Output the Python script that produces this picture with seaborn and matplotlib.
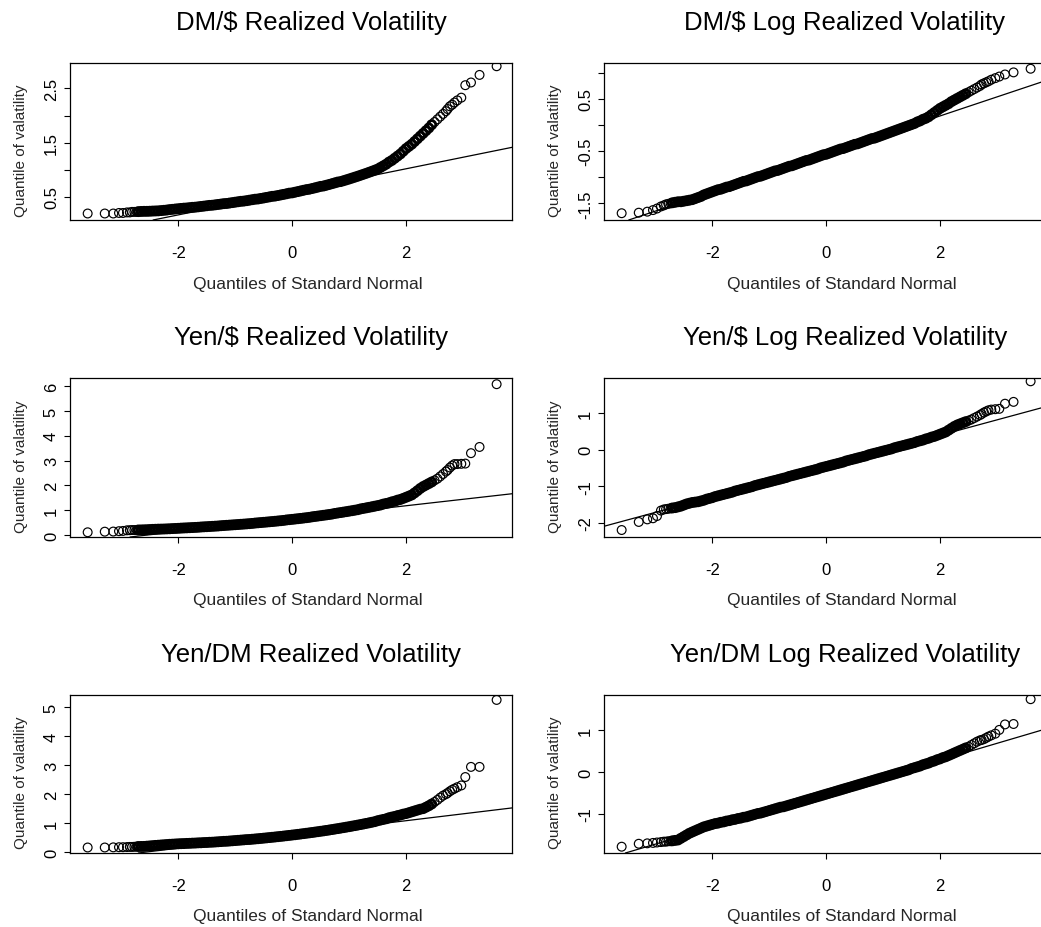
import matplotlib
matplotlib.use("Agg")
import matplotlib.pyplot as plt
from matplotlib import font_manager
import numpy as np
import pandas as pd
import seaborn as sns

# Standard normal quantiles (shared by all six panels)
X_QUANTILES = [
    -3.59, -3.29, -3.14, -3.04, -2.97, -2.90, -2.85, -2.81, -2.77, -2.73,
    -2.70, -2.65, -2.60, -2.55, -2.50, -2.45, -2.40, -2.35, -2.30, -2.25,
    -2.20, -2.15, -2.10, -2.05, -2.00, -1.95, -1.90, -1.85, -1.80, -1.75,
    -1.70, -1.65, -1.60, -1.55, -1.50, -1.45, -1.40, -1.35, -1.30, -1.25,
    -1.20, -1.15, -1.10, -1.05, -1.00, -0.95, -0.90, -0.85, -0.80, -0.75,
    -0.70, -0.65, -0.60, -0.55, -0.50, -0.45, -0.40, -0.35, -0.30, -0.25,
    -0.20, -0.15, -0.10, -0.05, 0.00, 0.05, 0.10, 0.15, 0.20, 0.25,
    0.30, 0.35, 0.40, 0.45, 0.50, 0.55, 0.60, 0.65, 0.70, 0.75,
    0.80, 0.85, 0.90, 0.95, 1.00, 1.05, 1.10, 1.15, 1.20, 1.25,
    1.30, 1.35, 1.40, 1.45, 1.50, 1.55, 1.60, 1.65, 1.70, 1.75,
    1.80, 1.85, 1.90, 1.95, 2.00, 2.05, 2.10, 2.15, 2.20, 2.25,
    2.30, 2.35, 2.40, 2.45, 2.50, 2.55, 2.60, 2.65, 2.70,
    2.73, 2.77, 2.81, 2.85, 2.90, 2.97, 3.04, 3.14, 3.29, 3.59,
]

# Sample quantiles, DM/$ realized volatility
DM_RV = [
    0.19, 0.19, 0.19, 0.20, 0.20, 0.21, 0.21, 0.22, 0.22, 0.22,
    0.225, 0.228, 0.230, 0.230, 0.232, 0.235, 0.237, 0.239, 0.244, 0.249,
    0.254, 0.262, 0.267, 0.273, 0.278, 0.284, 0.289, 0.292, 0.298, 0.304,
    0.307, 0.313, 0.320, 0.326, 0.333, 0.340, 0.343, 0.350, 0.357, 0.364,
    0.372, 0.375, 0.383, 0.391, 0.399, 0.407, 0.415, 0.419, 0.427, 0.436,
    0.445, 0.454, 0.458, 0.468, 0.477, 0.487, 0.497, 0.507, 0.512, 0.522,
    0.533, 0.543, 0.554, 0.566, 0.571, 0.583, 0.595, 0.607, 0.619, 0.631,
    0.638, 0.651, 0.664, 0.677, 0.691, 0.698, 0.712, 0.726, 0.741, 0.756,
    0.771, 0.779, 0.795, 0.811, 0.827, 0.844, 0.861, 0.878, 0.896, 0.914,
    0.932, 0.951, 0.970, 0.990, 1.010, 1.04, 1.07, 1.10, 1.14, 1.17,
    1.21, 1.25, 1.29, 1.34, 1.39, 1.43, 1.47, 1.52, 1.57, 1.62,
    1.67, 1.72, 1.77, 1.83, 1.88, 1.93, 1.98, 2.03, 2.08,
    2.12, 2.17, 2.20, 2.24, 2.28, 2.33, 2.56, 2.61, 2.75, 2.91,
]

# Sample quantiles, DM/$ log realized volatility
DM_LOG_RV = [
    -1.69, -1.68, -1.66, -1.63, -1.60, -1.56, -1.54, -1.52, -1.51, -1.50,
    -1.49, -1.48, -1.47, -1.47, -1.46, -1.45, -1.44, -1.43, -1.41, -1.39,
    -1.37, -1.34, -1.32, -1.30, -1.28, -1.26, -1.24, -1.23, -1.21, -1.19,
    -1.18, -1.16, -1.14, -1.12, -1.10, -1.08, -1.07, -1.05, -1.03, -1.01,
    -0.99, -0.98, -0.96, -0.94, -0.92, -0.90, -0.88, -0.87, -0.85, -0.83,
    -0.81, -0.79, -0.78, -0.76, -0.74, -0.72, -0.70, -0.68, -0.67, -0.65,
    -0.63, -0.61, -0.59, -0.57, -0.56, -0.54, -0.52, -0.50, -0.48, -0.46,
    -0.45, -0.43, -0.41, -0.39, -0.37, -0.36, -0.34, -0.32, -0.30, -0.28,
    -0.26, -0.25, -0.23, -0.21, -0.19, -0.17, -0.15, -0.13, -0.11, -0.09,
    -0.07, -0.05, -0.03, -0.01, 0.01, 0.03, 0.06, 0.08, 0.11, 0.13,
    0.16, 0.20, 0.24, 0.28, 0.32, 0.35, 0.38, 0.41, 0.45, 0.48,
    0.51, 0.54, 0.57, 0.60, 0.63, 0.66, 0.69, 0.72, 0.75,
    0.78, 0.80, 0.82, 0.84, 0.87, 0.90, 0.93, 0.97, 1.01, 1.08,
]

# Sample quantiles, Yen/$ realized volatility
YEN_RV = [
    0.11, 0.135, 0.14, 0.155, 0.165, 0.19, 0.195, 0.20, 0.20, 0.20,
    0.204, 0.206, 0.210, 0.214, 0.221, 0.228, 0.232, 0.237, 0.239, 0.242,
    0.247, 0.252, 0.259, 0.264, 0.270, 0.278, 0.284, 0.289, 0.295, 0.301,
    0.307, 0.313, 0.323, 0.330, 0.336, 0.343, 0.350, 0.357, 0.364, 0.375,
    0.383, 0.391, 0.399, 0.407, 0.415, 0.423, 0.432, 0.440, 0.449, 0.458,
    0.468, 0.482, 0.492, 0.502, 0.512, 0.522, 0.533, 0.543, 0.554, 0.566,
    0.577, 0.589, 0.607, 0.619, 0.631, 0.644, 0.657, 0.670, 0.684, 0.698,
    0.712, 0.733, 0.748, 0.763, 0.779, 0.795, 0.811, 0.827, 0.844, 0.869,
    0.887, 0.905, 0.923, 0.942, 0.961, 0.980, 1.000, 1.020, 1.051, 1.073,
    1.094, 1.116, 1.139, 1.162, 1.185, 1.209, 1.246, 1.271, 1.297, 1.336,
    1.363, 1.405, 1.433, 1.477, 1.522, 1.568, 1.616, 1.699, 1.786, 1.878,
    1.954, 2.014, 2.075, 2.138, 2.203, 2.270, 2.363, 2.460, 2.560,
    2.62, 2.72, 2.80, 2.86, 2.86, 2.87, 2.88, 3.30, 3.55, 6.08,
]

# Sample quantiles, Yen/$ log realized volatility
YEN_LOG_RV = [
    -2.19, -1.97, -1.90, -1.87, -1.81, -1.66, -1.63, -1.62, -1.61, -1.60,
    -1.59, -1.58, -1.56, -1.54, -1.51, -1.48, -1.46, -1.44, -1.43, -1.42,
    -1.40, -1.38, -1.35, -1.33, -1.31, -1.28, -1.26, -1.24, -1.22, -1.20,
    -1.18, -1.16, -1.13, -1.11, -1.09, -1.07, -1.05, -1.03, -1.01, -0.98,
    -0.96, -0.94, -0.92, -0.90, -0.88, -0.86, -0.84, -0.82, -0.80, -0.78,
    -0.76, -0.73, -0.71, -0.69, -0.67, -0.65, -0.63, -0.61, -0.59, -0.57,
    -0.55, -0.53, -0.50, -0.48, -0.46, -0.44, -0.42, -0.40, -0.38, -0.36,
    -0.34, -0.31, -0.29, -0.27, -0.25, -0.23, -0.21, -0.19, -0.17, -0.14,
    -0.12, -0.10, -0.08, -0.06, -0.04, -0.02, 0.00, 0.02, 0.05, 0.07,
    0.09, 0.11, 0.13, 0.15, 0.17, 0.19, 0.22, 0.24, 0.26, 0.29,
    0.31, 0.34, 0.36, 0.39, 0.42, 0.45, 0.48, 0.53, 0.58, 0.63,
    0.67, 0.70, 0.73, 0.76, 0.79, 0.82, 0.86, 0.90, 0.94,
    0.97, 1.01, 1.04, 1.07, 1.09, 1.10, 1.11, 1.25, 1.30, 1.86,
]

# Sample quantiles, Yen/DM realized volatility
YENDM_RV = [
    0.16, 0.16, 0.165, 0.17, 0.17, 0.175, 0.18, 0.18, 0.185, 0.19,
    0.194, 0.196, 0.198, 0.206, 0.214, 0.223, 0.232, 0.239, 0.247, 0.254,
    0.262, 0.270, 0.275, 0.281, 0.287, 0.292, 0.295, 0.301, 0.304, 0.310,
    0.313, 0.320, 0.323, 0.330, 0.333, 0.340, 0.343, 0.350, 0.357, 0.364,
    0.372, 0.375, 0.383, 0.391, 0.399, 0.407, 0.415, 0.423, 0.432, 0.436,
    0.445, 0.454, 0.463, 0.472, 0.482, 0.492, 0.502, 0.512, 0.522, 0.533,
    0.543, 0.554, 0.566, 0.577, 0.589, 0.600, 0.613, 0.625, 0.638, 0.651,
    0.664, 0.677, 0.691, 0.705, 0.719, 0.733, 0.748, 0.763, 0.779, 0.795,
    0.811, 0.827, 0.844, 0.861, 0.878, 0.896, 0.914, 0.932, 0.951, 0.970,
    0.990, 1.010, 1.030, 1.051, 1.083, 1.105, 1.127, 1.150, 1.185, 1.209,
    1.23, 1.26, 1.28, 1.31, 1.33, 1.36, 1.39, 1.42, 1.45, 1.48,
    1.50, 1.55, 1.60, 1.66, 1.73, 1.80, 1.88, 1.95, 2.00,
    2.04, 2.10, 2.15, 2.19, 2.24, 2.30, 2.59, 2.94, 2.94, 5.25,
]

# Sample quantiles, Yen/DM log realized volatility
YENDM_LOG_RV = [
    -1.78, -1.71, -1.70, -1.69, -1.68, -1.67, -1.66, -1.66, -1.65, -1.65,
    -1.64, -1.63, -1.62, -1.58, -1.54, -1.50, -1.46, -1.43, -1.40, -1.37,
    -1.34, -1.31, -1.29, -1.27, -1.25, -1.23, -1.22, -1.20, -1.19, -1.17,
    -1.16, -1.14, -1.13, -1.11, -1.10, -1.08, -1.07, -1.05, -1.03, -1.01,
    -0.99, -0.98, -0.96, -0.94, -0.92, -0.90, -0.88, -0.86, -0.84, -0.83,
    -0.81, -0.79, -0.77, -0.75, -0.73, -0.71, -0.69, -0.67, -0.65, -0.63,
    -0.61, -0.59, -0.57, -0.55, -0.53, -0.51, -0.49, -0.47, -0.45, -0.43,
    -0.41, -0.39, -0.37, -0.35, -0.33, -0.31, -0.29, -0.27, -0.25, -0.23,
    -0.21, -0.19, -0.17, -0.15, -0.13, -0.11, -0.09, -0.07, -0.05, -0.03,
    -0.01, 0.01, 0.03, 0.05, 0.08, 0.10, 0.12, 0.14, 0.17, 0.19,
    0.21, 0.24, 0.26, 0.29, 0.31, 0.34, 0.36, 0.39, 0.42, 0.45,
    0.48, 0.51, 0.54, 0.57, 0.60, 0.64, 0.68, 0.72, 0.75,
    0.76, 0.78, 0.81, 0.84, 0.87, 0.91, 1.00, 1.13, 1.14, 1.73,
]

# Reference lines through the quartiles: (intercept, slope)
QQ_LINES = {
    "DM/$ Realized Volatility": (0.59, 0.213),
    "DM/$ Log Realized Volatility": (-0.555, 0.365),
    "Yen/$ Realized Volatility": (0.66, 0.26),
    "Yen/$ Log Realized Volatility": (-0.45, 0.42),
    "Yen/DM Realized Volatility": (0.61, 0.237),
    "Yen/DM Log Realized Volatility": (-0.52, 0.40),
}

X_TICKS = [-2, 0, 2]
X_TICK_LABELS = ["-2", "0", "2"]

sns.set_style("ticks")
plt.rcParams["font.family"] = ["Liberation Sans", "DejaVu Sans"]

installed = {f.name for f in font_manager.fontManager.ttflist}
if "Liberation Sans Narrow" in installed:
    YLABEL_FONT, YLABEL_SIZE = "Liberation Sans Narrow", 13
else:
    YLABEL_FONT, YLABEL_SIZE = "Liberation Sans", 11

W, H = 1041, 928
fig = plt.figure(figsize=(W / 100, H / 100), dpi=100)

COL_LEFT = [70, 604]
ROWS = [(64, 221), (379, 538), (696, 854)]
AX_W = 442

panels = [
    ("DM/$ Realized Volatility", DM_RV,
     [0.5, 1.0, 1.5, 2.0, 2.5], ["0.5", "", "1.5", "", "2.5"], (0.07, 2.97)),
    ("DM/$ Log Realized Volatility", DM_LOG_RV,
     [-1.5, -1.0, -0.5, 0.0, 0.5, 1.0], ["-1.5", "", "-0.5", "", "0.5", ""], (-1.82, 1.19)),
    ("Yen/$ Realized Volatility", YEN_RV,
     [0, 1, 2, 3, 4, 5, 6], ["0", "1", "2", "3", "4", "5", "6"], (-0.08, 6.33)),
    ("Yen/$ Log Realized Volatility", YEN_LOG_RV,
     [-2, -1, 0, 1], ["-2", "-1", "0", "1"], (-2.38, 1.95)),
    ("Yen/DM Realized Volatility", YENDM_RV,
     [0, 1, 2, 3, 4, 5], ["0", "1", "2", "3", "4", "5"], (-0.03, 5.42)),
    ("Yen/DM Log Realized Volatility", YENDM_LOG_RV,
     [-1, 0, 1], ["-1", "0", "1"], (-1.93, 1.83)),
]

for i, (title, values, yticks, ylabels, ylim) in enumerate(panels):
    row, col = divmod(i, 2)
    top, bottom = ROWS[row]
    left = COL_LEFT[col]
    ax_h = bottom - top
    ax = fig.add_axes([left / W, 1 - bottom / H, AX_W / W, ax_h / H])

    df = pd.DataFrame({"normal": X_QUANTILES, "sample": values})
    # the crowded middle of the sample overprints into a solid band,
    # so those circles get a heavier outline than the isolated tail points
    crowded = (df["normal"] >= -2.70) & (df["normal"] <= 2.45)
    sns.scatterplot(data=df[crowded], x="normal", y="sample", ax=ax, marker="o",
                    s=34, facecolor="none", edgecolor="black", linewidth=2.0,
                    legend=False, zorder=3)
    sns.scatterplot(data=df[~crowded], x="normal", y="sample", ax=ax, marker="o",
                    s=40, facecolor="none", edgecolor="black", linewidth=0.85,
                    legend=False, zorder=3)

    a, b = QQ_LINES[title]
    ax.axline((0, a), slope=b, color="black", lw=0.9, zorder=2)

    ax.set_xlim(-3.90, 3.86)
    ax.set_ylim(*ylim)
    ax.set_xticks(X_TICKS)
    ax.set_xticklabels(X_TICK_LABELS, fontsize=12)
    ax.set_yticks(yticks)
    ax.set_yticklabels(ylabels, fontsize=12, rotation=90, va="center")
    ax.tick_params(axis="x", direction="out", length=4, width=0.8, pad=14, colors="black")
    ax.tick_params(axis="y", direction="out", length=4, width=0.8, pad=4, colors="black")
    for sp in ax.spines.values():
        sp.set_color("black")
        sp.set_linewidth(0.9)
        sp.set_visible(True)

    ax.set_xlabel("Quantiles of Standard Normal", fontsize=12.5)
    ax.xaxis.set_label_coords(0.5 + 17 / AX_W, -63 / ax_h)
    ax.xaxis.label.set_va("center")
    ax.set_ylabel("Quantile of valatility", fontsize=YLABEL_SIZE, family=YLABEL_FONT)
    ax.yaxis.set_label_coords(-49 / AX_W, 0.5 - 8 / ax_h)
    ax.yaxis.label.set_va("center")

    ax.text(0.5 + 20 / AX_W, 1 + 41 / ax_h, title, transform=ax.transAxes,
            ha="center", va="center", fontsize=18.5, color="black")

fig.savefig("out.png", dpi=100, facecolor="white")
